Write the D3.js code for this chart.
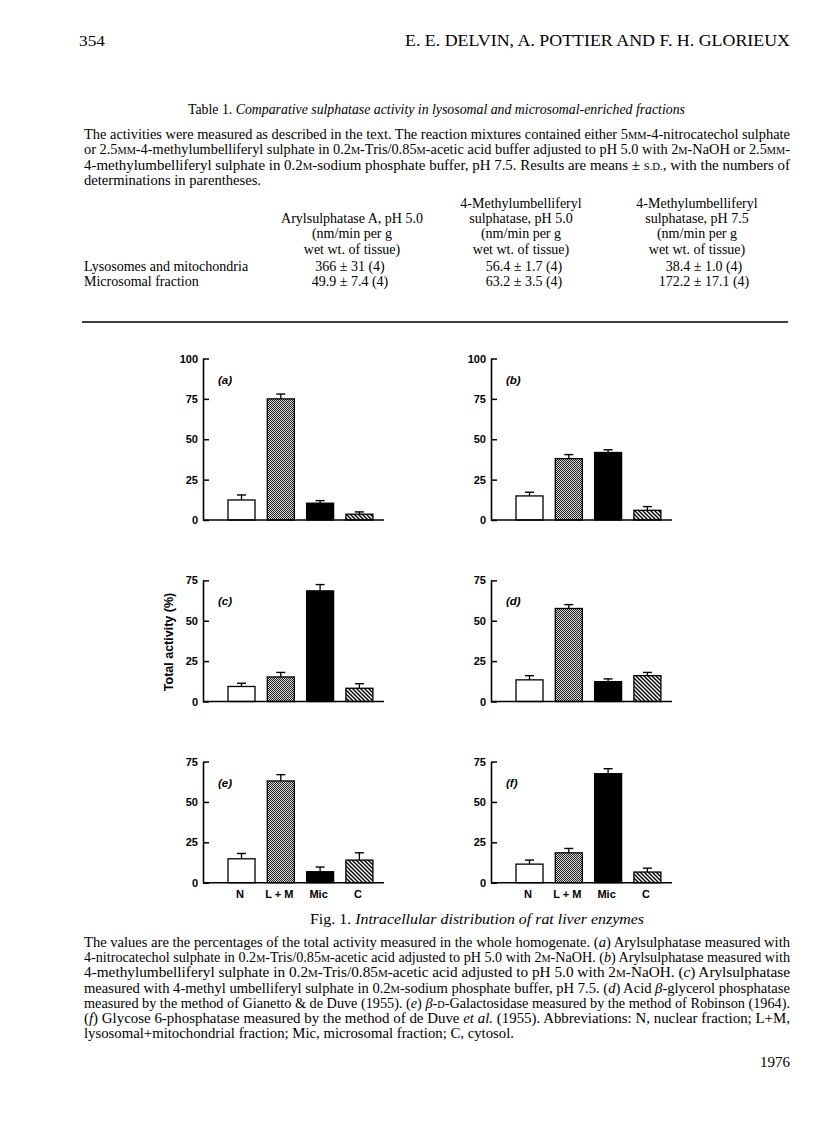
<!DOCTYPE html>
<html>
<head>
<meta charset="utf-8">
<script src="https://cdn.jsdelivr.net/npm/d3@7"></script>
<style>
body { margin: 0; background: #fff; }
svg { display: block; }
</style>
</head>
<body>
<svg width="816" height="1136"></svg>
<script>
// fractions on the x axis
const fractions = ["N", "L + M", "Mic", "C"]
const panelLabels = ["(a)", "(b)", "(c)", "(d)", "(e)", "(f)"]
const panelMax = [100, 100, 75, 75, 75, 75]

// % of total activity (mean) and upper s.d. for each panel
const meanA = [12.4, 75.0, 10.4, 3.6]
const sdA   = [3.1, 3.0, 1.6, 1.4]
const meanB = [14.9, 38.0, 41.8, 6.0]
const sdB   = [2.3, 2.5, 1.7, 2.3]
const meanC = [9.3, 15.2, 68.5, 8.2]
const sdC   = [2.0, 2.8, 3.9, 2.8]
const meanD = [13.4, 57.6, 12.3, 16.0]
const sdD   = [2.6, 2.4, 1.7, 2.0]
const meanE = [14.8, 63.0, 6.8, 14.0]
const sdE   = [3.3, 3.9, 2.9, 4.5]
const meanF = [11.5, 18.5, 67.5, 6.6]
const sdF   = [2.5, 2.7, 3.1, 2.4]
const means = [meanA, meanB, meanC, meanD, meanE, meanF]
const sds = [sdA, sdB, sdC, sdD, sdE, sdF]

// table 1
const tableHead1 = ["", "4-Methylumbelliferyl", "4-Methylumbelliferyl"]
const tableHead2 = ["Arylsulphatase A, pH 5.0", "sulphatase, pH 5.0", "sulphatase, pH 7.5"]
const tableHead3 = ["(nm/min per g", "(nm/min per g", "(nm/min per g"]
const tableHead4 = ["wet wt. of tissue)", "wet wt. of tissue)", "wet wt. of tissue)"]
const tableRows = ["Lysosomes and mitochondria", "Microsomal fraction"]
const colAryl = ["366 ± 31  (4)", "49.9 ± 7.4 (4)"]
const colMu50 = ["56.4 ± 1.7 (4)", "63.2 ± 3.5 (4)"]
const colMu75 = ["38.4 ±  1.0 (4)", "172.2 ± 17.1 (4)"]

const tableNote = [
    "The activities were measured as described in the text. The reaction mixtures contained either 5~mm~-4-nitrocatechol sulphate",
    "or 2.5~mm~-4-methylumbelliferyl sulphate in 0.2~m~-Tris/0.85~m~-acetic acid buffer adjusted to pH 5.0 with 2~m~-NaOH or 2.5~mm~-",
    "4-methylumbelliferyl sulphate in 0.2~m~-sodium phosphate buffer, pH 7.5. Results are means ± ~s.d.~, with the numbers of",
    "determinations in parentheses."
]
const figNote = [
    "The values are the percentages of the total activity measured in the whole homogenate. (*a*) Arylsulphatase measured with",
    "4-nitrocatechol sulphate in 0.2~m~-Tris/0.85~m~-acetic acid adjusted to pH 5.0 with 2~m~-NaOH. (*b*) Arylsulphatase measured with",
    "4-methylumbelliferyl sulphate in 0.2~m~-Tris/0.85~m~-acetic acid adjusted to pH 5.0 with 2~m~-NaOH. (*c*) Arylsulphatase",
    "measured with 4-methyl umbelliferyl sulphate in 0.2~m~-sodium phosphate buffer, pH 7.5. (*d*) Acid *β*-glycerol phosphatase",
    "measured by the method of Gianetto & de Duve (1955). (*e*) *β*-~d~-Galactosidase measured by the method of Robinson (1964).",
    "(*f*) Glycose 6-phosphatase measured by the method of de Duve *et al.* (1955). Abbreviations: N, nuclear fraction; L+M,",
    "lysosomal+mitochondrial fraction; Mic, microsomal fraction; C, cytosol."
]

const svg = d3.select("svg")
const serif = "'Liberation Serif', 'Times New Roman', serif"
const sans = "'Liberation Sans', Arial, sans-serif"
const left = 84, right = 790
const bodySize = 14

// '*' toggles italic, '~' toggles small caps
function richText(str, x, y, size, opts) {
    opts = opts || {}
    const t = svg.append("text")
        .attr("x", x).attr("y", y)
        .attr("font-family", serif)
        .attr("font-size", size)
        .attr("fill", "#000")
    if (opts.anchor) t.attr("text-anchor", opts.anchor)
    if (opts.width) t.attr("textLength", opts.width).attr("lengthAdjust", "spacingAndGlyphs")
    let italic = !!opts.italic, sc = false, buf = ""
    const flush = () => {
        if (!buf) return
        t.append("tspan")
            .attr("font-style", italic ? "italic" : null)
            .attr("font-size", sc ? size * 0.72 : null)
            .text(sc ? buf.toUpperCase() : buf)
        buf = ""
    }
    for (const ch of str) {
        if (ch == "*") { flush(); italic = !italic }
        else if (ch == "~") { flush(); sc = !sc }
        else buf += ch
    }
    flush()
    return t
}

function drawHeader() {
    richText("354", 79, 46, 14.5, {width: 26})
    richText("E. E. DELVIN, A. POTTIER AND F. H. GLORIEUX", right, 46, 16.5, {anchor: "end", width: 385})

    richText("Table 1. *Comparative sulphatase activity in lysosomal and microsomal-enriched fractions*", 188, 114, 14, {width: 497})
    tableNote.forEach((line, i) => {
        const last = i == tableNote.length - 1
        richText(line, left, 139 + i * 15.3, bodySize, last ? {width: 177} : {width: right - left})
    })

    const colX = [352, 521, 697]
    const heads = [tableHead1, tableHead2, tableHead3, tableHead4]
    heads.forEach((h, r) => {
        h.forEach((s, c) => {
            if (s) richText(s, colX[c], 208 + r * 15.2, bodySize, {anchor: "middle"})
        })
    })
    const valX = [350, 524, 704]
    tableRows.forEach((s, r) => {
        const y = 271 + r * 15
        richText(s, left, y, bodySize)
        richText(colAryl[r], valX[0], y, bodySize, {anchor: "middle"})
        richText(colMu50[r], valX[1], y, bodySize, {anchor: "middle"})
        richText(colMu75[r], valX[2], y, bodySize, {anchor: "middle"})
    })

    svg.append("line")
        .attr("x1", 82).attr("x2", 788)
        .attr("y1", 322).attr("y2", 322)
        .attr("stroke", "#000").attr("stroke-width", 1.6)
}

function drawFooter() {
    richText("Fig. 1. *Intracellular distribution of rat liver enzymes*", 310, 924, 14, {width: 334})
    figNote.forEach((line, i) => {
        const last = i == figNote.length - 1
        richText(line, left, 947 + i * 15.2, bodySize, last ? {width: 430} : {width: right - left})
    })
    richText("1976", right, 1067, 15, {anchor: "end"})
}

function makePatterns() {
    const defs = svg.append("defs")
    const dots = defs.append("pattern")
        .attr("id", "stipple")
        .attr("patternUnits", "userSpaceOnUse")
        .attr("width", 2).attr("height", 2)
    dots.append("rect").attr("width", 2).attr("height", 2).attr("fill", "#d8d8d8")
    dots.append("rect").attr("width", 1).attr("height", 1).attr("fill", "#222")
    dots.append("rect").attr("x", 1).attr("y", 1).attr("width", 1).attr("height", 1).attr("fill", "#222")

    const hatch = defs.append("pattern")
        .attr("id", "hatch")
        .attr("patternUnits", "userSpaceOnUse")
        .attr("width", 4).attr("height", 4)
    hatch.append("rect").attr("width", 4).attr("height", 4).attr("fill", "#fff")
    hatch.append("path")
        .attr("d", "M-1,-1L5,5M3,-1L5,1M-1,3L1,5")
        .attr("stroke", "#000").attr("stroke-width", 1.4)
}

const barFill = ["#fff", "url(#stipple)", "#000", "url(#hatch)"]
const axisX = [203, 491]
const zeroY = [520, 701.5, 882.7]
const pxPerUnit = 1.615

function drawPanel(i) {
    const col = i % 2, row = Math.floor(i / 2)
    const x0 = axisX[col], zero = zeroY[row]
    const max = panelMax[i]
    const y = d3.scaleLinear().domain([0, max]).range([zero, zero - max * pxPerUnit])
    const step = 39.3, pad = 0.313
    const x = d3.scaleBand().domain(fractions)
        .range([x0 + 25, x0 + 25 + step * (fractions.length - pad)])
        .paddingInner(pad).paddingOuter(0)

    const g = svg.append("g")
    const data = fractions.map((f, k) => ({f: f, m: means[i][k], sd: sds[i][k], fill: barFill[k]}))

    // bars
    g.selectAll("rect.bar").data(data).enter()
        .append("rect").attr("class", "bar")
        .attr("x", d => x(d.f))
        .attr("y", d => y(d.m))
        .attr("width", x.bandwidth())
        .attr("height", d => y(0) - y(d.m))
        .attr("fill", d => d.fill)
        .attr("stroke", "#000").attr("stroke-width", 1.3)

    // error bars (upper only)
    g.selectAll("line.err").data(data).enter()
        .append("line").attr("class", "err")
        .attr("x1", d => x(d.f) + x.bandwidth() / 2)
        .attr("x2", d => x(d.f) + x.bandwidth() / 2)
        .attr("y1", d => y(d.m))
        .attr("y2", d => y(d.m + d.sd))
        .attr("stroke", "#000").attr("stroke-width", 1.3)
    g.selectAll("line.cap").data(data).enter()
        .append("line").attr("class", "cap")
        .attr("x1", d => x(d.f) + x.bandwidth() / 2 - 4.5)
        .attr("x2", d => x(d.f) + x.bandwidth() / 2 + 4.5)
        .attr("y1", d => y(d.m + d.sd))
        .attr("y2", d => y(d.m + d.sd))
        .attr("stroke", "#000").attr("stroke-width", 1.4)

    // y axis
    const ax = g.append("g")
        .attr("transform", "translate(" + x0 + ",0)")
        .call(d3.axisLeft(y).tickValues(d3.range(0, max + 1, 25)).tickSize(-6).tickSizeOuter(0).tickPadding(5))
    ax.select(".domain").attr("stroke", "#000").attr("stroke-width", 1.6)
    ax.selectAll(".tick line").attr("stroke", "#000").attr("stroke-width", 1.5)
    ax.selectAll(".tick text")
        .attr("font-family", sans).attr("font-size", 11).attr("font-weight", "bold")
        .attr("fill", "#000")

    // x axis baseline
    g.append("line")
        .attr("x1", x0).attr("x2", x0 + 181)
        .attr("y1", zero).attr("y2", zero)
        .attr("stroke", "#000").attr("stroke-width", 1.6)

    // panel letter
    g.append("text")
        .attr("x", x0 + 15).attr("y", y(max) + 25)
        .attr("font-family", sans).attr("font-size", 11.5).attr("font-weight", "bold")
        .attr("font-style", "italic").attr("fill", "#000")
        .text(panelLabels[i])

    // category labels on the bottom row
    if (row == 2) {
        g.selectAll("text.cat").data(fractions).enter()
            .append("text").attr("class", "cat")
            .attr("x", d => x(d) + x.bandwidth() / 2 - 1.5)
            .attr("y", zero + 15)
            .attr("text-anchor", "middle")
            .attr("font-family", sans).attr("font-size", 11).attr("font-weight", "bold")
            .attr("fill", "#000")
            .text(d => d)
    }
}

function drawFigure() {
    makePatterns()
    panelLabels.forEach((p, i) => drawPanel(i))
    svg.append("text")
        .attr("transform", "translate(173,642) rotate(-90)")
        .attr("text-anchor", "middle")
        .attr("font-family", sans).attr("font-size", 12.5).attr("font-weight", "bold")
        .attr("fill", "#000")
        .text("Total activity (%)")
}

drawHeader()
drawFigure()
drawFooter()
</script>
</body>
</html>
